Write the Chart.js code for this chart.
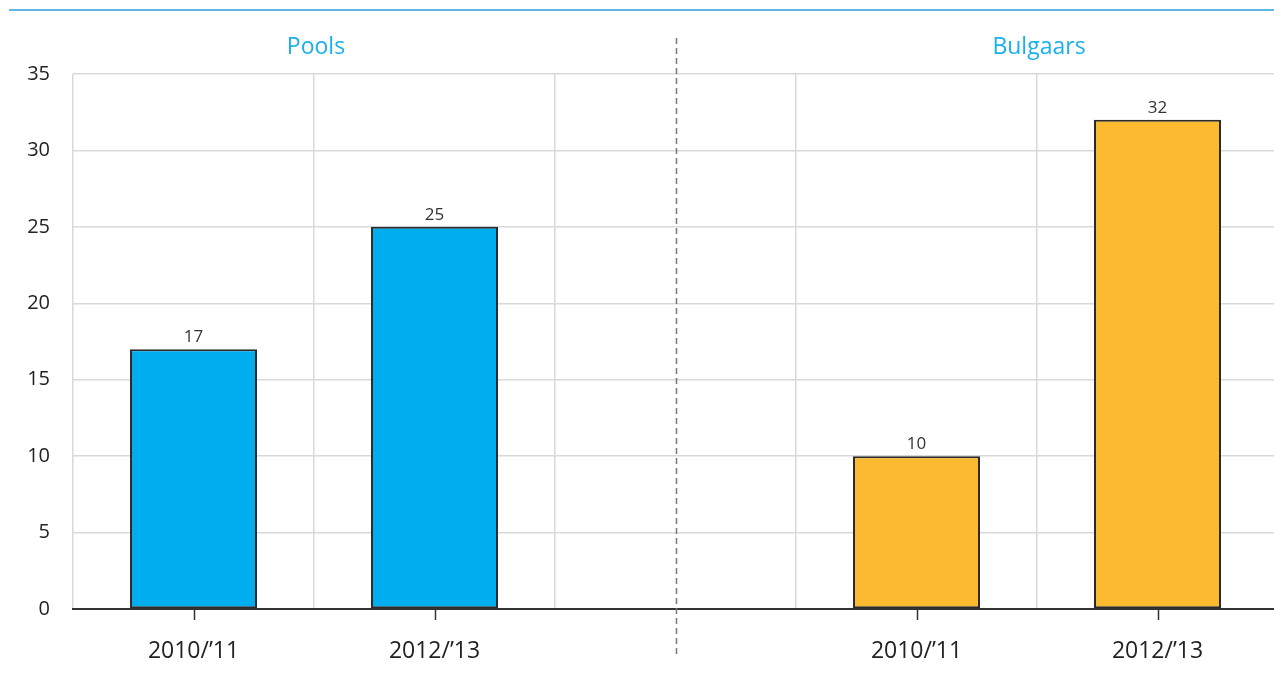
<!DOCTYPE html>
<html>
<head>
<meta charset="utf-8">
<script src="https://cdn.jsdelivr.net/npm/chart.js@4"></script>
<style>
  html, body { margin: 0; padding: 0; background: #fff; overflow: hidden; }
  #wrap { width: 1278px; height: 686px; position: relative; }
</style>
</head>
<body>
<div id="wrap"><canvas id="chart"></canvas></div>
<script>
// categorieën (midden is leeg, scheidingslijn)
const categories = ['2010/’11', '2012/’13', '', '2010/’11', '2012/’13'];
const groupNames = ['Pools', 'Bulgaars'];
const poolsValues = [17, 25, null, null, null];
const bulgaarsValues = [null, null, null, 10, 32];
const yTicks = [0, 5, 10, 15, 20, 25, 30, 35];

const FONT = '"Open Sans", sans-serif';

// Eigen tekenwerk: titels, labels boven balken, tickjes, stippellijn
const extras = {
  id: 'extras',
  afterDraw(chart) {
    const ctx = chart.ctx;
    const x = chart.scales.x;
    const area = chart.chartArea;
    ctx.save();

    // blauwe lijn bovenaan
    ctx.strokeStyle = '#5db7e3';
    ctx.lineWidth = 2;
    ctx.beginPath();
    ctx.moveTo(9, 10);
    ctx.lineTo(chart.width, 10);
    ctx.stroke();

    // groepstitels
    ctx.fillStyle = '#1ab0ec';
    ctx.font = '23px ' + FONT;
    ctx.textAlign = 'center';
    ctx.textBaseline = 'middle';
    ctx.fillText(groupNames[0], (x.getPixelForValue(0) + x.getPixelForValue(1)) / 2 + 2, 47);
    ctx.fillText(groupNames[1], (x.getPixelForValue(3) + x.getPixelForValue(4)) / 2 + 2, 47);

    // stippellijn
    const mid = Math.round(x.getPixelForValue(2)) + 0.5;
    ctx.strokeStyle = '#777';
    ctx.lineWidth = 1.5;
    ctx.setLineDash([6, 4]);
    ctx.beginPath();
    ctx.moveTo(mid, 38);
    ctx.lineTo(mid, 657);
    ctx.stroke();
    ctx.setLineDash([]);

    // tickjes onder de as
    ctx.strokeStyle = '#333';
    ctx.lineWidth = 1.5;
    categories.forEach((c, i) => {
      if (!c) return;
      const px = Math.round(x.getPixelForValue(i)) + 0.5;
      ctx.beginPath();
      ctx.moveTo(px, area.bottom);
      ctx.lineTo(px, area.bottom + 11);
      ctx.stroke();
    });

    // waarden boven de balken
    ctx.fillStyle = '#333';
    ctx.font = '17px ' + FONT;
    ctx.textBaseline = 'bottom';
    chart.data.datasets.forEach((ds, di) => {
      chart.getDatasetMeta(di).data.forEach((bar, i) => {
        if (ds.data[i] == null) return;
        ctx.fillText(ds.data[i], bar.x, bar.y - 3);
      });
    });
    ctx.restore();
  }
};

new Chart(document.getElementById('chart'), {
  type: 'bar',
  data: {
    labels: categories,
    datasets: [
      {
        label: groupNames[0],
        data: poolsValues,
        backgroundColor: '#00adef',
        borderColor: '#2b2b2b',
        borderWidth: 2,
        borderSkipped: false
      },
      {
        label: groupNames[1],
        data: bulgaarsValues,
        backgroundColor: '#fbba2f',
        borderColor: '#2b2b2b',
        borderWidth: 2,
        borderSkipped: false
      }
    ]
  },
  options: {
    responsive: true,
    maintainAspectRatio: false,
    animation: false,
    grouped: false,
    categoryPercentage: 1,
    barPercentage: 0.527,
    layout: { padding: { top: 74, left: 0, right: 0, bottom: 0 } },
    plugins: {
      legend: { display: false },
      tooltip: { enabled: false }
    },
    scales: {
      x: {
        offset: true,
        grid: { offset: true, color: '#d9d9d9', lineWidth: 1.5, drawTicks: false },
        border: { display: true, color: '#333', width: 2 },
        ticks: { color: '#222', font: { family: FONT, size: 23 }, padding: 29, maxRotation: 0 },
        afterFit(scale) { scale.height = 77; }
      },
      y: {
        min: 0,
        max: 35,
        afterBuildTicks(scale) { scale.ticks = yTicks.map(v => ({ value: v })); },
        grid: { color: '#d9d9d9', lineWidth: 1.5, drawTicks: false },
        border: { display: false },
        ticks: { color: '#222', font: { family: FONT, size: 20 }, padding: 23 },
        afterFit(scale) { scale.width = 73; }
      }
    }
  },
  plugins: [extras]
});
</script>
</body>
</html>
